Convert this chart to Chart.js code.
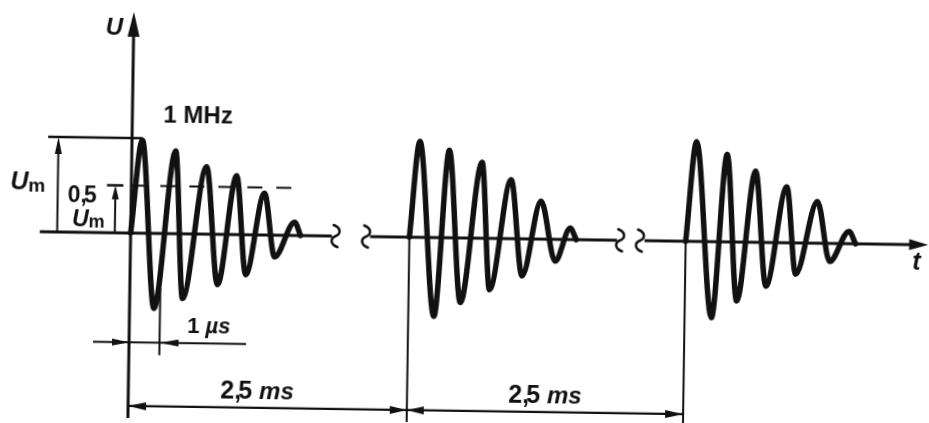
<!DOCTYPE html>
<html>
<head>
<meta charset="utf-8">
<script src="https://cdn.jsdelivr.net/npm/chart.js@4.4.1/dist/chart.umd.min.js"></script>
<style>
    html, body { margin: 0; padding: 0; background: #fff; overflow: hidden; }
    /* the original is a slightly skewed scan, so the whole drawing is turned a little */
    #wave { display: block; transform: rotate(0.85deg); }
</style>
</head>
<body>
<canvas id="wave" width="929" height="423"></canvas>
<script>
// turning points of each damped burst: time in microseconds from burst start, voltage in Um
var burst1Time = [0, 0.34, 0.80, 1.44, 1.73, 2.46, 2.87, 3.45, 3.79, 4.37, 4.73, 5.37, 5.57];
var burst1Volt = [0, 0.98, -0.79, 0.87, -0.68, 0.71, -0.53, 0.62, -0.42, 0.44, -0.23, 0.14, 0];

var burst2Time = [0, 0.30, 0.84, 1.27, 1.70, 2.35, 2.65, 3.31, 3.71, 4.30, 4.79, 5.27, 5.47];
var burst2Volt = [0, 1.01, -0.83, 0.92, -0.68, 0.80, -0.54, 0.62, -0.39, 0.40, -0.23, 0.12, 0];

var burst3Time = [0, 0.31, 0.88, 1.32, 1.70, 2.26, 2.65, 3.29, 3.62, 4.30, 4.73, 5.35, 5.57];
var burst3Volt = [0, 1.05, -0.80, 0.92, -0.62, 0.75, -0.46, 0.59, -0.33, 0.44, -0.19, 0.13, 0];

// where each burst starts on the broken time axis (bursts are 2,5 ms apart)
var burstStart = [0, 9.14, 18.2];

var halfLevel = 0.5;      // the 0,5 Um mark
var periodMark = 1.0;     // 1 us = one period at 1 MHz

var INK = '#111';

function toPoints(times, volts, offset)
{
    var pts = [];
    for (var i = 0; i < times.length; i++) {
        pts.push({x: offset + times[i], y: volts[i]});
    }
    return pts;
}

function burst(times, volts, offset)
{
    return {
        data: toPoints(times, volts, offset),
        showLine: true,
        borderColor: INK,
        borderWidth: 5.5,
        pointRadius: 0,
        cubicInterpolationMode: 'monotone',
        borderJoinStyle: 'round',
        borderCapStyle: 'round',
        clip: false
    };
}

function seg(x1, y1, x2, y2, width, dash)
{
    return {
        data: [{x: x1, y: y1}, {x: x2, y: y2}],
        showLine: true,
        borderColor: INK,
        borderWidth: width,
        borderDash: dash || [],
        pointRadius: 0,
        tension: 0,
        clip: false
    };
}

var datasets = [
    // time axis, broken twice
    seg(-2.98, 0, 6.6, 0, 3),
    seg(7.85, 0, 15.95, 0, 3),
    seg(16.85, 0, 25.55, 0, 3),
    // voltage axis and the extension lines of burst 2 and 3
    seg(0, -1.97, 0, 2.08, 3),
    seg(burstStart[1], 0, burstStart[1], -1.97, 2),
    seg(burstStart[2], 0, burstStart[2], -1.97, 2),
    // Um dimension
    seg(-2.75, 1, 0.34, 1, 2.3),
    seg(-2.41, 0, -2.41, 0.85, 2),
    // 0,5 Um dimension
    seg(0, halfLevel, 5.62, halfLevel, 2, [15, 14]),
    seg(-0.52, 0, -0.52, 0.4, 2),
    seg(-0.8, halfLevel, -0.26, halfLevel, 2.5),
    // 1 us dimension
    seg(-1.18, -1.15, 3.84, -1.15, 2),
    seg(periodMark, -0.58, periodMark, -1.28, 2),
    // 2,5 ms dimensions
    seg(0, -1.82, burstStart[2], -1.82, 2.2),
    burst(burst1Time, burst1Volt, burstStart[0]),
    burst(burst2Time, burst2Volt, burstStart[1]),
    burst(burst3Time, burst3Volt, burstStart[2])
];

// arrow heads: x, y of the tip, direction, length px, width px
var arrows = [
    [0, 2.33, 'up', 25, 12],
    [26.15, 0, 'right', 19, 11],
    [-2.41, 1, 'up', 17, 7],
    [-0.52, halfLevel, 'up', 14, 7],
    [0, -1.15, 'right', 17, 7],
    [periodMark, -1.15, 'left', 19, 7],
    [0, -1.82, 'left', 18, 8],
    [burstStart[1], -1.82, 'right', 17, 8],
    [burstStart[1], -1.82, 'left', 17, 8],
    [burstStart[2], -1.82, 'right', 18, 8]
];

// axis breaks on the time axis
var breaks = [6.72, 7.72, 16.05, 16.7];

// texts: pieces drawn one after another from the left x, on a common baseline
var labels = [
    {x: -0.92, y: 2.08, parts: [['U', 'italic bold 24px']]},
    {x: 1.02, y: 1.17, parts: [['1 MHz', 'bold 24px']]},
    {x: -3.97, y: 0.44, parts: [['U', 'italic bold 25px'], ['m', 'bold 19px', 2]]},
    {x: -2.08, y: 0.32, parts: [['0', 'bold 23px'], [',', 'bold 23px', 0, -3], ['5', 'bold 23px']]},
    {x: -1.93, y: 0.06, parts: [['U', 'italic bold 23px'], ['m', 'bold 18px', 1]]},
    {x: 1.9, y: -1.04, parts: [['1 ', 'bold 22px'], ['\u00b5s', 'italic bold 22px']]},
    {x: 3.02, y: -1.73, parts: [['2', 'bold 25px'], [',', 'bold 25px', 0, -3], ['5 ', 'bold 25px'], ['ms', 'italic bold 24px']]},
    {x: 12.46, y: -1.73, parts: [['2', 'bold 25px'], [',', 'bold 25px', 0, -3], ['5 ', 'bold 25px'], ['ms', 'italic bold 24px']]},
    {x: 25.64, y: -0.26, parts: [['t', 'italic bold 25px']]}
];

var drawingExtras = {
    id: 'drawingExtras',
    afterDatasetsDraw: function(chart) {
        var ctx = chart.ctx;
        var sx = chart.scales.x, sy = chart.scales.y;
        ctx.save();
        ctx.fillStyle = INK;
        ctx.strokeStyle = INK;

        arrows.forEach(function(a) {
            var x = sx.getPixelForValue(a[0]), y = sy.getPixelForValue(a[1]);
            var len = a[3], w = a[4] / 2;
            ctx.beginPath();
            ctx.moveTo(x, y);
            if (a[2] == 'up') { ctx.lineTo(x - w, y + len); ctx.lineTo(x + w, y + len); }
            if (a[2] == 'down') { ctx.lineTo(x - w, y - len); ctx.lineTo(x + w, y - len); }
            if (a[2] == 'left') { ctx.lineTo(x + len, y - w); ctx.lineTo(x + len, y + w); }
            if (a[2] == 'right') { ctx.lineTo(x - len, y - w); ctx.lineTo(x - len, y + w); }
            ctx.closePath();
            ctx.fill();
        });

        ctx.lineWidth = 2.5;
        ctx.lineCap = 'round';
        breaks.forEach(function(b) {
            var x = sx.getPixelForValue(b), y = sy.getPixelForValue(0);
            ctx.beginPath();
            ctx.moveTo(x - 2, y - 11);
            ctx.bezierCurveTo(x + 6, y - 8, x + 5, y - 2, x, y);
            ctx.bezierCurveTo(x - 5, y + 2, x - 6, y + 8, x + 2, y + 11);
            ctx.stroke();
        });

        ctx.textBaseline = 'alphabetic';
        ctx.textAlign = 'left';
        labels.forEach(function(l) {
            var x = sx.getPixelForValue(l.x), y = sy.getPixelForValue(l.y);
            l.parts.forEach(function(p) {
                ctx.font = p[1] + ' "Liberation Sans", Arial, sans-serif';
                ctx.fillText(p[0], x, y + (p[2] || 0));
                // the scanned commas sit tight between the digits
                x += ctx.measureText(p[0]).width + (p[3] || 0);
            });
        });
        ctx.restore();
    }
};

new Chart(document.getElementById('wave'), {
    type: 'scatter',
    data: { datasets: datasets },
    options: {
        responsive: false,
        animation: false,
        devicePixelRatio: 1,
        layout: { padding: 0 },
        plugins: { legend: { display: false }, tooltip: { enabled: false } },
        scales: {
            x: { type: 'linear', display: false, min: -4.295, max: 26.164 },
            y: { type: 'linear', display: false, min: -1.947, max: 2.505 }
        }
    },
    plugins: [drawingExtras]
});
</script>
</body>
</html>
